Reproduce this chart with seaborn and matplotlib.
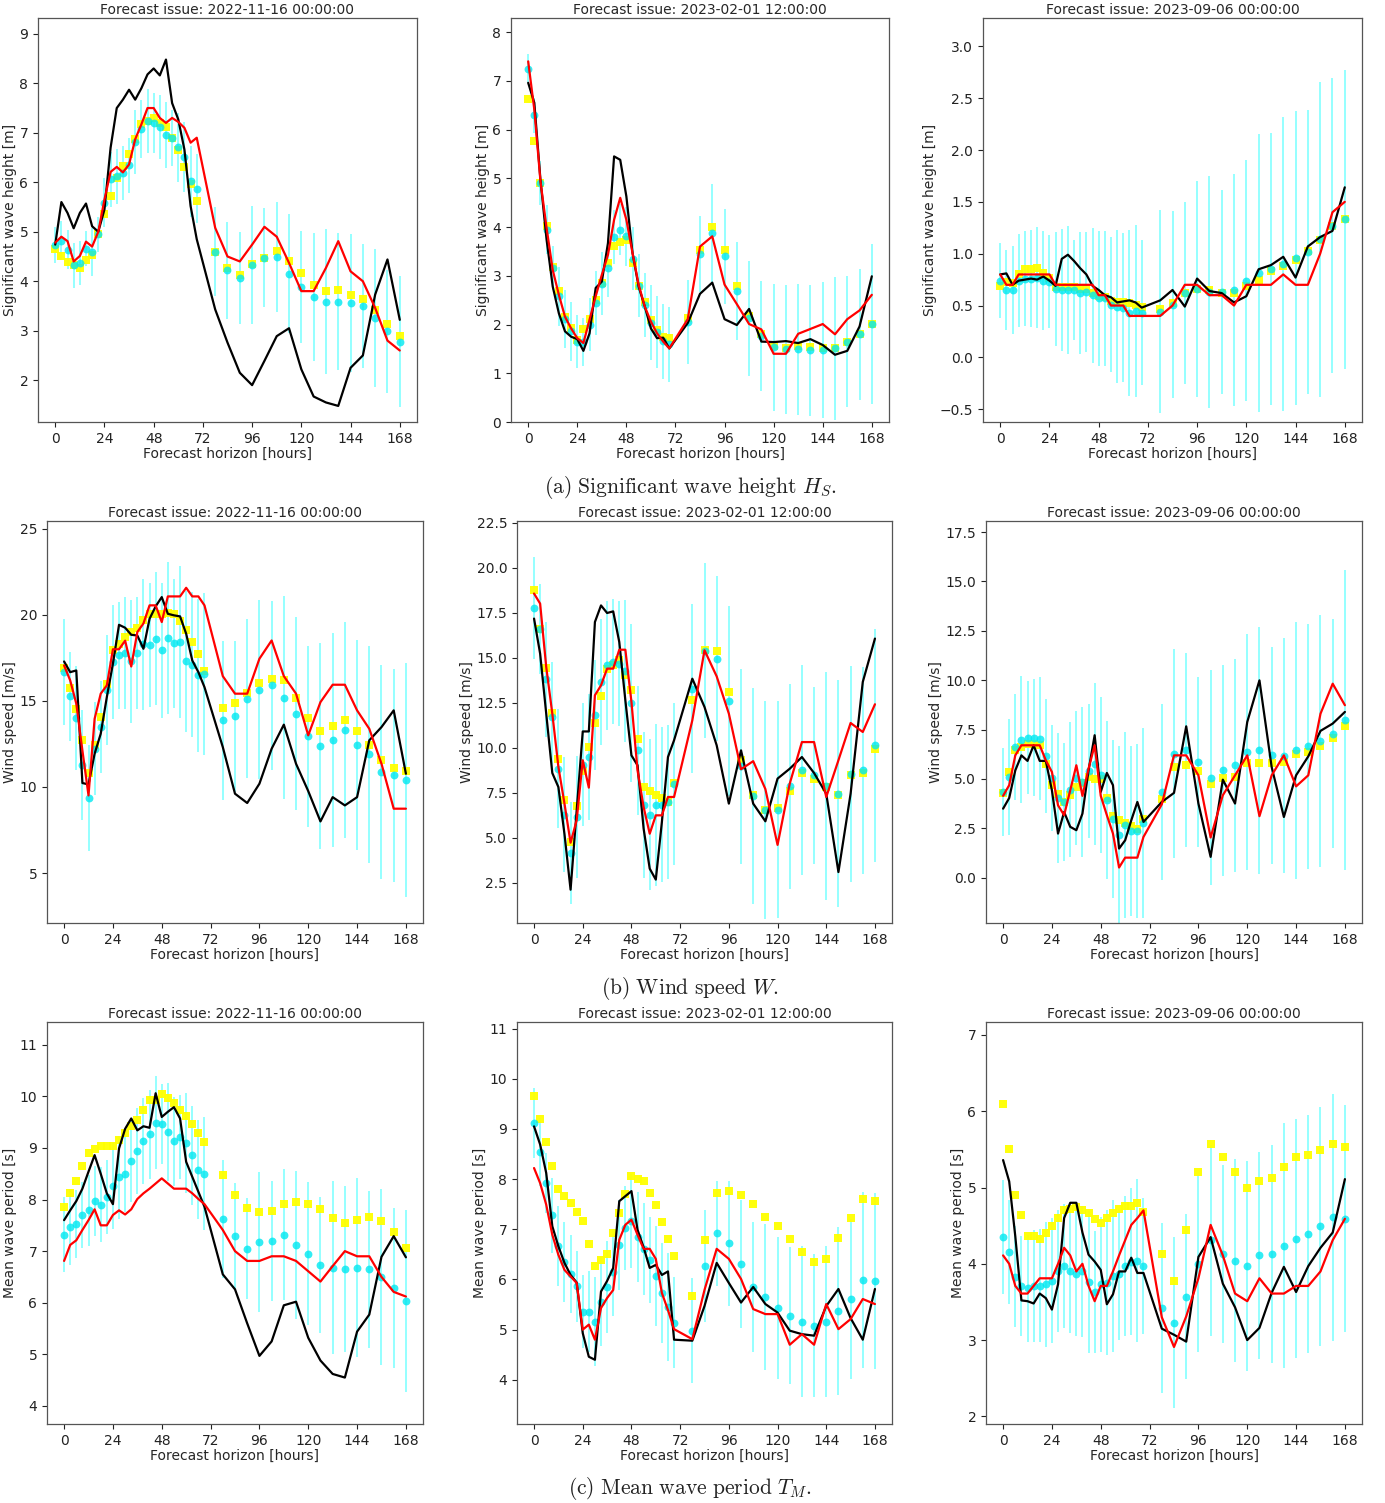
import matplotlib
matplotlib.use("Agg")
import matplotlib.pyplot as plt
import seaborn as sns
import numpy as np

# ---------------- data ----------------
horizon = [0, 3, 6, 9, 12, 15, 18, 21, 24, 27, 30, 33, 36, 39, 42, 45, 48, 51, 54, 57, 60, 63, 66, 69,
           78, 84, 90, 96, 102, 108, 114, 120, 126, 132, 138, 144, 150, 156, 162, 168]
issues = ["2022-11-16 00:00:00", "2023-02-01 12:00:00", "2023-09-06 00:00:00"]
var_labels = ["Significant wave height [m]", "Wind speed [m/s]", "Mean wave period [s]"]
captions = [r"$\mathrm{(a)\ Significant\ wave\ height\ }H_S\mathrm{.}$",
            r"$\mathrm{(b)\ Wind\ speed\ }W\mathrm{.}$",
            r"$\mathrm{(c)\ Mean\ wave\ period\ }T_M\mathrm{.}$"]

# Significant wave height, issue 1
hs1_obs = [4.74,5.6,5.38,5.07,5.38,5.57,5.11,5.0,5.45,6.7,7.5,7.67,7.87,7.67,7.9,8.18,8.3,8.16,8.48,7.6,7.27,6.66,5.52,4.85,
           3.43,2.76,2.15,1.9,2.39,2.89,3.05,2.22,1.67,1.55,1.48,2.25,2.5,3.73,4.44,3.22]
hs1_ref = [4.78,4.9,4.81,4.4,4.51,4.8,4.7,5.0,5.65,6.21,6.31,6.2,6.36,6.87,7.17,7.5,7.5,7.3,7.2,7.3,7.22,7.1,6.8,6.9,
           5.08,4.5,4.4,4.74,5.1,4.9,4.37,3.8,3.8,4.27,4.81,4.2,4.0,3.46,2.8,2.6]
hs1_yel = [4.66,4.52,4.39,4.32,4.27,4.42,4.54,4.95,5.36,5.72,6.08,6.33,6.58,6.87,7.18,7.24,7.3,7.2,7.11,6.9,6.66,6.3,5.96,5.63,
           4.6,4.27,4.13,4.34,4.47,4.61,4.41,4.16,3.92,3.8,3.82,3.73,3.65,3.41,3.14,2.89]
hs1_cyn = [4.73,4.82,4.64,4.32,4.37,4.66,4.59,4.95,5.59,6.06,6.12,6.19,6.34,6.81,7.08,7.24,7.2,7.12,6.95,6.9,6.71,6.51,6.02,5.87,
           4.6,4.22,4.07,4.33,4.47,4.49,4.15,3.89,3.68,3.59,3.59,3.56,3.5,3.26,2.99,2.78]
hs1_spr = [0.36,0.4,0.4,0.45,0.45,0.35,0.48,0.35,0.5,0.55,0.55,0.55,0.55,0.65,0.58,0.65,0.6,0.65,0.67,0.57,0.7,0.7,0.72,0.7,
           0.9,0.98,0.93,1.2,1.0,1.12,1.2,1.13,1.3,1.47,1.38,1.4,1.25,1.4,1.24,1.33]

# Significant wave height, issue 2
hs2_obs = [6.96,6.55,4.97,3.74,2.78,2.23,1.86,1.75,1.7,1.46,1.82,2.75,2.88,3.67,5.45,5.38,4.63,3.47,2.78,2.37,1.92,1.72,1.73,1.51,
           2.03,2.63,2.86,2.11,1.99,2.32,1.65,1.64,1.66,1.62,1.7,1.58,1.38,1.46,1.96,2.99]
hs2_ref = [7.4,6.41,4.94,3.98,3.12,2.61,2.16,1.92,1.72,1.62,2.1,2.58,3.02,3.43,4.15,4.6,4.15,3.47,2.82,2.37,2.06,1.82,1.65,1.51,
           2.11,3.6,3.81,2.82,2.42,2.01,1.9,1.4,1.4,1.81,1.91,2.01,1.8,2.11,2.29,2.61]
hs2_yel = [6.62,5.76,4.9,4.03,3.19,2.68,2.16,1.92,1.68,1.9,2.11,2.51,2.86,3.26,3.62,3.69,3.74,3.26,2.8,2.46,2.1,1.89,1.74,1.72,
           2.13,3.53,4.01,3.53,2.8,2.18,1.8,1.55,1.51,1.55,1.53,1.51,1.51,1.65,1.8,2.01]
hs2_cyn = [7.25,6.29,4.9,3.95,3.16,2.58,2.11,1.86,1.65,1.64,2.0,2.44,2.84,3.17,3.79,3.95,3.81,3.35,2.8,2.4,2.04,1.84,1.66,1.6,
           2.06,3.45,3.88,3.4,2.69,2.13,1.77,1.53,1.49,1.49,1.47,1.48,1.51,1.65,1.8,2.01]
hs2_spr = [0.3,0.35,0.45,0.5,0.45,0.6,0.6,0.6,0.55,0.5,0.55,0.65,0.65,0.6,0.55,0.53,0.6,0.65,0.65,0.65,0.77,0.74,0.77,0.77,
           0.86,0.78,1.0,0.97,1.0,1.18,1.13,1.3,1.33,1.35,1.35,1.39,1.46,1.34,1.34,1.64]

# Significant wave height, issue 3
hs3_obs = [0.8,0.81,0.7,0.74,0.75,0.76,0.75,0.78,0.74,0.69,0.95,0.99,0.93,0.86,0.8,0.69,0.65,0.6,0.58,0.53,0.54,0.55,0.53,0.48,
           0.55,0.65,0.49,0.76,0.64,0.62,0.53,0.59,0.85,0.89,0.97,0.77,1.07,1.16,1.22,1.64]
hs3_ref = [0.8,0.7,0.7,0.8,0.8,0.8,0.8,0.8,0.8,0.7,0.7,0.7,0.7,0.7,0.7,0.7,0.6,0.6,0.5,0.5,0.5,0.4,0.4,0.4,
           0.4,0.5,0.7,0.7,0.6,0.6,0.5,0.7,0.7,0.7,0.8,0.7,0.7,1.0,1.4,1.5]
hs3_yel = [0.69,0.73,0.72,0.8,0.85,0.85,0.86,0.81,0.77,0.68,0.68,0.68,0.68,0.66,0.66,0.62,0.59,0.58,0.54,0.53,0.53,0.52,0.51,0.49,
           0.47,0.52,0.62,0.66,0.65,0.62,0.62,0.69,0.75,0.83,0.88,0.94,1.03,1.13,1.27,1.33]
hs3_cyn = [0.74,0.65,0.65,0.74,0.76,0.76,0.77,0.74,0.73,0.66,0.65,0.65,0.65,0.62,0.63,0.6,0.57,0.57,0.51,0.49,0.48,0.43,0.45,0.43,
           0.44,0.51,0.62,0.66,0.63,0.63,0.65,0.74,0.81,0.85,0.9,0.96,1.02,1.14,1.27,1.33]
hs3_spr = [0.36,0.39,0.42,0.45,0.46,0.47,0.49,0.48,0.45,0.55,0.59,0.62,0.48,0.59,0.58,0.65,0.65,0.65,0.65,0.74,0.72,0.8,0.83,0.7,
           0.98,0.9,0.88,1.04,1.12,0.98,1.12,1.16,1.34,1.31,1.42,1.42,1.37,1.52,1.42,1.44]

# Wind speed, issue 1
ws1_obs = [17.29,16.67,16.77,10.23,10.15,11.93,13.09,15.22,17.16,19.42,19.25,18.84,18.8,18.03,19.77,20.49,21.03,20.06,19.97,19.91,18.9,17.35,16.67,15.8,
           12.32,9.61,9.07,10.19,12.22,13.62,11.35,9.76,8.0,9.41,8.93,9.41,12.71,13.48,14.45,10.77]
ws1_ref = [17.06,16.19,14.84,12.12,9.51,13.96,15.42,15.9,18.0,18.0,18.5,17.0,19.0,19.5,20.55,20.55,19.58,21.07,21.07,21.07,21.57,21.07,21.07,20.55,
           16.44,15.42,15.42,17.45,18.51,16.44,15.42,13.0,14.93,15.94,15.94,14.45,13.38,11.35,8.74,8.74]
ws1_yel = [16.9,15.75,14.55,12.71,10.81,12.45,14.06,16.0,17.93,18.32,18.71,19.0,19.23,19.68,20.06,20.06,20.06,20.12,20.06,19.62,19.13,18.42,17.74,16.71,
           14.58,14.87,15.45,16.06,16.25,16.19,15.18,14.02,13.23,13.56,13.91,13.25,12.45,11.58,11.1,10.92]
ws1_cyn = [16.67,15.26,14.0,11.29,9.36,12.22,13.48,15.65,17.26,17.64,17.8,17.29,17.78,18.28,18.22,18.61,17.93,18.65,18.36,18.42,17.31,17.1,16.48,16.58,
           13.87,14.1,15.13,15.65,15.9,15.18,14.25,12.94,12.38,12.74,13.33,12.45,11.89,10.87,10.67,10.42]
ws1_spr = [3.06,2.6,3.0,3.2,3.1,2.7,2.65,3.2,3.3,3.1,3.25,3.6,3.25,3.8,3.6,3.85,3.9,4.4,3.75,4.4,4.1,4.2,4.45,4.7,
           4.6,4.4,4.6,5.2,4.9,5.9,5.6,5.25,6.0,6.2,6.27,6.1,6.3,6.2,6.17,6.8]

# Wind speed, issue 2
ws2_obs = [17.17,15.22,11.89,8.59,7.81,5.2,2.11,6.5,10.9,10.9,16.98,17.9,17.48,17.57,15.87,12.63,9.57,9.02,5.5,3.28,2.67,5.87,9.48,10.41,
           13.83,12.26,10.13,6.89,9.85,6.89,5.91,8.28,8.83,9.48,8.59,7.44,3.09,7.44,13.65,16.06]
ws2_ref = [18.56,18.0,14.48,11.89,8.93,6.89,4.72,5.96,9.3,7.78,12.91,13.46,14.39,14.39,15.44,15.44,12.54,8.74,6.7,5.22,6.24,6.24,7.26,7.26,
           11.52,15.41,13.96,11.89,8.8,9.25,7.7,4.6,8.0,10.31,10.31,7.26,9.3,11.37,10.87,12.41]
ws2_yel = [18.78,16.61,14.44,11.94,9.39,7.07,4.76,6.74,8.69,10.04,11.37,12.85,14.39,14.57,14.89,14.02,13.19,10.5,7.81,7.59,7.35,7.2,6.98,8.06,
           12.67,15.44,15.35,13.09,9.3,7.35,6.52,6.67,7.59,8.59,8.28,7.81,7.35,8.5,8.59,9.94]
ws2_cyn = [17.76,16.57,13.8,11.7,8.83,6.28,4.15,6.15,9.06,9.48,11.8,13.65,14.57,14.76,14.67,14.26,12.48,9.85,6.8,6.28,6.83,6.83,6.98,8.0,
           13.28,15.37,14.94,12.57,8.96,7.3,6.52,6.56,7.85,8.74,8.46,7.85,7.44,8.56,8.74,10.13]
ws2_spr = [2.82,2.5,3.2,3.05,3.3,3.2,2.85,3.4,3.4,3.5,3.05,3.5,3.6,3.47,3.47,3.96,4.4,3.6,4.05,4.2,4.5,4.3,4.26,4.5,
           4.7,4.86,4.58,5.28,5.4,6.0,6.06,6.05,5.7,5.83,4.9,6.34,6.3,6.0,5.74,6.46]

# Wind speed, issue 3
ws3_obs = [3.49,4.03,5.43,6.19,5.91,6.7,5.91,5.91,4.42,2.23,3.32,2.57,2.4,3.24,5.43,7.21,4.34,5.3,4.68,1.47,1.89,2.9,3.83,2.82,
           3.83,4.29,7.66,3.75,1.05,4.96,3.75,7.88,9.99,5.6,3.07,5.18,6.14,7.43,7.8,8.39]
ws3_ref = [4.14,4.68,6.19,6.7,6.7,6.7,6.7,5.94,5.35,3.66,3.16,4.42,5.69,4.14,5.52,6.7,4.14,3.16,2.23,0.51,1.01,1.01,1.01,2.06,
           3.71,6.19,6.19,5.18,2.03,4.17,5.18,6.19,3.11,5.18,6.19,4.62,5.18,8.3,9.82,8.73]
ws3_yel = [4.3,5.35,6.45,6.62,6.78,6.78,6.73,5.77,4.68,4.25,3.83,4.17,4.59,4.79,5.1,5.01,5.01,4.03,3.11,2.9,2.77,2.62,2.48,2.99,
           4.0,5.6,5.72,5.4,4.73,5.06,5.1,5.81,5.81,5.82,5.86,6.24,6.36,6.67,7.09,7.66]
ws3_cyn = [4.34,5.1,6.62,6.99,7.09,7.09,7.04,6.16,5.05,4.03,3.83,4.46,5.06,4.84,5.38,5.77,5.22,3.95,2.99,2.18,2.65,2.35,2.35,2.77,
           4.34,6.28,6.45,5.86,5.06,5.43,5.69,6.36,6.45,6.19,6.16,6.45,6.65,6.92,7.29,7.97]
ws3_spr = [2.24,2.95,2.7,3.2,2.85,2.95,3.1,2.9,2.7,3.3,3.0,3.4,3.4,3.8,3.4,4.1,3.95,4.0,4.0,4.5,4.7,4.3,4.4,4.8,
           4.45,5.3,4.9,4.3,5.45,5.36,5.4,6.0,6.25,5.5,5.95,6.5,6.2,6.4,5.8,7.6]

# Mean wave period, issue 1
tm1_obs = [7.6,7.79,7.97,8.21,8.54,8.86,8.5,8.12,7.91,8.99,9.37,9.57,9.34,9.42,9.39,10.06,9.6,9.7,9.79,9.57,8.73,8.44,8.15,7.86,
           6.55,6.26,5.6,4.97,5.25,5.95,6.02,5.32,4.88,4.62,4.55,5.44,5.77,6.89,7.29,6.88]
tm1_ref = [6.81,7.12,7.21,7.41,7.6,7.81,7.5,7.5,7.7,7.79,7.71,7.81,8.01,8.12,8.21,8.31,8.41,8.31,8.21,8.21,8.21,8.12,8.01,7.91,
           7.41,7.0,6.81,6.81,6.9,6.9,6.81,6.61,6.41,6.71,7.0,6.9,6.9,6.5,6.21,6.12]
tm1_yel = [7.86,8.12,8.36,8.65,8.9,8.97,9.04,9.03,9.03,9.15,9.29,9.43,9.55,9.73,9.92,9.92,10.05,9.97,9.87,9.74,9.62,9.46,9.28,9.12,
           8.48,8.08,7.83,7.76,7.78,7.91,7.95,7.91,7.81,7.65,7.55,7.61,7.66,7.59,7.37,7.07]
tm1_cyn = [7.32,7.47,7.52,7.7,7.79,7.97,7.9,8.05,8.26,8.43,8.5,8.75,8.94,9.13,9.26,9.49,9.46,9.31,9.13,9.21,9.1,8.86,8.58,8.5,
           7.62,7.29,7.05,7.18,7.19,7.32,7.12,6.95,6.73,6.68,6.66,6.68,6.65,6.5,6.28,6.03]
tm1_spr = [0.73,0.73,0.66,0.63,0.69,0.68,0.73,0.72,0.83,0.8,0.74,0.8,0.83,0.83,0.87,0.9,0.78,0.95,0.86,0.82,0.97,0.96,0.96,1.09,
           1.15,1.03,0.97,1.36,1.16,1.27,1.44,1.39,1.32,1.68,1.61,1.74,1.52,1.7,1.55,1.76]

# Mean wave period, issue 2
tm2_obs = [9.05,8.69,8.12,7.06,6.66,6.33,6.09,5.94,4.93,4.46,4.4,5.76,5.97,6.23,7.56,7.66,7.76,6.99,6.64,6.23,6.29,6.09,6.16,4.8,
           4.78,5.47,6.33,5.93,5.54,5.85,5.51,5.34,4.98,4.91,4.88,5.47,5.81,5.23,4.8,5.81]
tm2_ref = [8.22,7.92,7.49,6.89,6.49,6.19,6.06,5.93,5.0,5.1,4.8,5.43,5.63,5.79,6.79,7.09,7.19,6.89,6.61,6.61,6.41,5.73,5.39,5.01,
           4.81,5.79,6.61,6.41,6.01,5.41,5.31,5.31,4.7,4.91,4.7,5.51,5.01,5.21,5.61,5.51]
tm2_yel = [9.66,9.2,8.74,8.27,7.8,7.66,7.52,7.34,7.16,6.7,6.27,6.39,6.51,6.92,7.32,7.7,8.07,8.01,7.97,7.72,7.48,7.14,6.8,6.46,
           5.68,6.79,7.72,7.77,7.69,7.5,7.24,7.07,6.8,6.55,6.34,6.41,6.82,7.22,7.6,7.57]
tm2_cyn = [9.12,8.54,7.92,7.28,6.66,6.35,6.11,5.86,5.36,5.36,5.16,5.56,5.85,6.14,6.69,7.02,7.16,6.84,6.61,6.39,6.07,5.73,5.45,5.14,
           4.98,6.27,6.92,6.72,6.31,5.85,5.65,5.43,5.28,5.16,5.08,5.16,5.37,5.61,5.99,5.97]
tm2_spr = [0.69,0.67,0.6,0.75,0.8,0.8,0.77,0.71,0.73,0.8,0.88,0.88,0.92,0.86,0.9,0.84,0.94,0.9,0.92,0.85,1.0,1.0,1.08,0.91,
           1.04,1.12,1.05,1.25,1.28,1.3,1.46,1.42,1.36,1.5,1.43,1.5,1.68,1.6,1.75,1.75]

# Mean wave period, issue 3
tm3_obs = [5.36,5.08,4.36,3.52,3.51,3.48,3.61,3.55,3.4,3.73,4.6,4.8,4.8,4.41,4.12,4.03,3.92,3.47,3.6,3.9,3.9,4.08,3.88,3.88,
           3.15,3.07,2.98,4.09,4.35,3.74,3.43,3.0,3.16,3.62,3.96,3.63,3.97,4.21,4.41,5.11]
tm3_ref = [4.11,4.0,3.71,3.61,3.61,3.71,3.81,3.81,3.81,4.0,4.21,4.11,3.9,4.0,3.71,3.51,3.71,3.71,3.9,4.11,4.31,4.51,4.6,4.7,
           3.3,2.91,3.31,3.81,4.51,4.11,3.61,3.51,3.81,3.61,3.61,3.71,3.71,3.9,4.31,4.59]
tm3_yel = [6.1,5.51,4.9,4.64,4.37,4.37,4.32,4.41,4.49,4.6,4.7,4.72,4.75,4.7,4.66,4.59,4.53,4.6,4.67,4.72,4.76,4.76,4.8,4.68,
           4.13,3.78,4.44,5.2,5.57,5.4,5.2,5.0,5.08,5.13,5.27,5.4,5.43,5.49,5.57,5.53]
tm3_cyn = [4.35,4.15,3.83,3.71,3.68,3.71,3.71,3.73,3.78,3.9,3.97,3.91,3.87,3.9,3.76,3.63,3.73,3.75,3.84,3.86,3.97,4.03,4.04,3.97,
           3.42,3.23,3.57,4.0,4.31,4.13,4.04,3.97,4.11,4.13,4.24,4.33,4.39,4.49,4.61,4.59]
tm3_spr = [0.75,0.68,0.66,0.66,0.7,0.73,0.74,0.82,0.82,0.8,0.81,0.82,0.82,0.86,0.93,0.8,0.88,0.95,1.0,0.86,0.92,0.96,1.07,0.89,
           1.12,1.12,1.08,1.15,1.25,1.17,1.33,1.38,1.36,1.43,1.6,1.57,1.56,1.57,1.62,1.49]

panels = [
    [(hs1_obs, hs1_ref, hs1_yel, hs1_cyn, hs1_spr),
     (hs2_obs, hs2_ref, hs2_yel, hs2_cyn, hs2_spr),
     (hs3_obs, hs3_ref, hs3_yel, hs3_cyn, hs3_spr)],
    [(ws1_obs, ws1_ref, ws1_yel, ws1_cyn, ws1_spr),
     (ws2_obs, ws2_ref, ws2_yel, ws2_cyn, ws2_spr),
     (ws3_obs, ws3_ref, ws3_yel, ws3_cyn, ws3_spr)],
    [(tm1_obs, tm1_ref, tm1_yel, tm1_cyn, tm1_spr),
     (tm2_obs, tm2_ref, tm2_yel, tm2_cyn, tm2_spr),
     (tm3_obs, tm3_ref, tm3_yel, tm3_cyn, tm3_spr)],
]

# ---------------- layout / style ----------------
ylims = [[(1.155, 9.32), (0.0, 8.29), (-0.623, 3.273)],
         [(2.1, 25.45), (0.26, 22.59), (-2.3, 18.06)],
         [(3.65, 11.44), (3.12, 11.13), (1.90, 7.17)]]
yticks = [[np.arange(2, 10, 1), np.arange(0, 9, 1), np.arange(-0.5, 3.01, 0.5)],
          [np.arange(5, 26, 5), np.arange(2.5, 22.6, 2.5), np.arange(0, 17.6, 2.5)],
          [np.arange(4, 12, 1), np.arange(4, 12, 1), np.arange(2, 8, 1)]]
yfmt = [["{:.0f}", "{:.0f}", "{:.1f}"],
        ["{:.0f}", "{:.1f}", "{:.1f}"],
        ["{:.0f}", "{:.0f}", "{:.0f}"]]

# pixel boxes (left, right, top, bottom) per row/col
boxes = [[(38, 417, 18, 422), (511, 889, 18, 422), (983, 1362, 18, 422)],
         [(47, 423, 521, 923), (517, 892, 521, 923), (986, 1362, 521, 923)],
         [(47, 423, 1022, 1424), (517, 892, 1022, 1424), (986, 1362, 1022, 1424)]]
caption_y = [488, 988, 1489]

sns.set_style("ticks")
plt.rcParams["font.family"] = ["DejaVu Sans"]
plt.rcParams["mathtext.fontset"] = "cm"
plt.rcParams["axes.edgecolor"] = "#555555"
plt.rcParams["xtick.color"] = "#222222"
plt.rcParams["ytick.color"] = "#222222"

W, H = 1385, 1503
fig = plt.figure(figsize=(W / 100, H / 100), dpi=100)

for r in range(3):
    for c in range(3):
        l, rr, t, b = boxes[r][c]
        ax = fig.add_axes([l / W, 1 - b / H, (rr - l) / W, (b - t) / H])
        obs, ref, yel, cyn, spr = panels[r][c]
        lo = [m - s for m, s in zip(cyn, spr)]
        hi = [m + s for m, s in zip(cyn, spr)]
        ax.vlines(horizon, lo, hi, colors="cyan", alpha=0.42, linewidth=1.4, zorder=1)
        sns.scatterplot(x=horizon, y=yel, marker="s", color="yellow", s=26,
                        linewidth=0, alpha=0.95, ax=ax, zorder=2, legend=False)
        sns.scatterplot(x=horizon, y=cyn, marker="o", color="#00e8f0", s=32,
                        linewidth=0, alpha=0.8, ax=ax, zorder=3, legend=False)
        sns.lineplot(x=horizon, y=obs, color="black", linewidth=1.6, ax=ax,
                     zorder=4, legend=False)
        sns.lineplot(x=horizon, y=ref, color="red", linewidth=1.6, ax=ax,
                     zorder=5, legend=False)
        ax.set_xlim(-8.4, 176.4)
        ax.set_xticks([0, 24, 48, 72, 96, 120, 144, 168])
        ax.set_ylim(*ylims[r][c])
        yt = yticks[r][c]
        ax.set_yticks(yt)
        ax.set_yticklabels([yfmt[r][c].format(v).replace("-", "\u2212") for v in yt])
        ax.tick_params(labelsize=10, length=3.5, width=0.8)
        for sp in ax.spines.values():
            sp.set_visible(True)
            sp.set_linewidth(0.9)
        ax.set_xlabel("Forecast horizon [hours]", fontsize=10, labelpad=1)
        ax.set_ylabel(var_labels[r], fontsize=10, labelpad=2)
        ax.set_title("Forecast issue: " + issues[c], fontsize=10, pad=3)
    fig.text(690 / W, 1 - caption_y[r] / H, captions[r], ha="center", va="center",
             fontsize=15.5, color="#222222")

fig.savefig("out.png", dpi=100)
